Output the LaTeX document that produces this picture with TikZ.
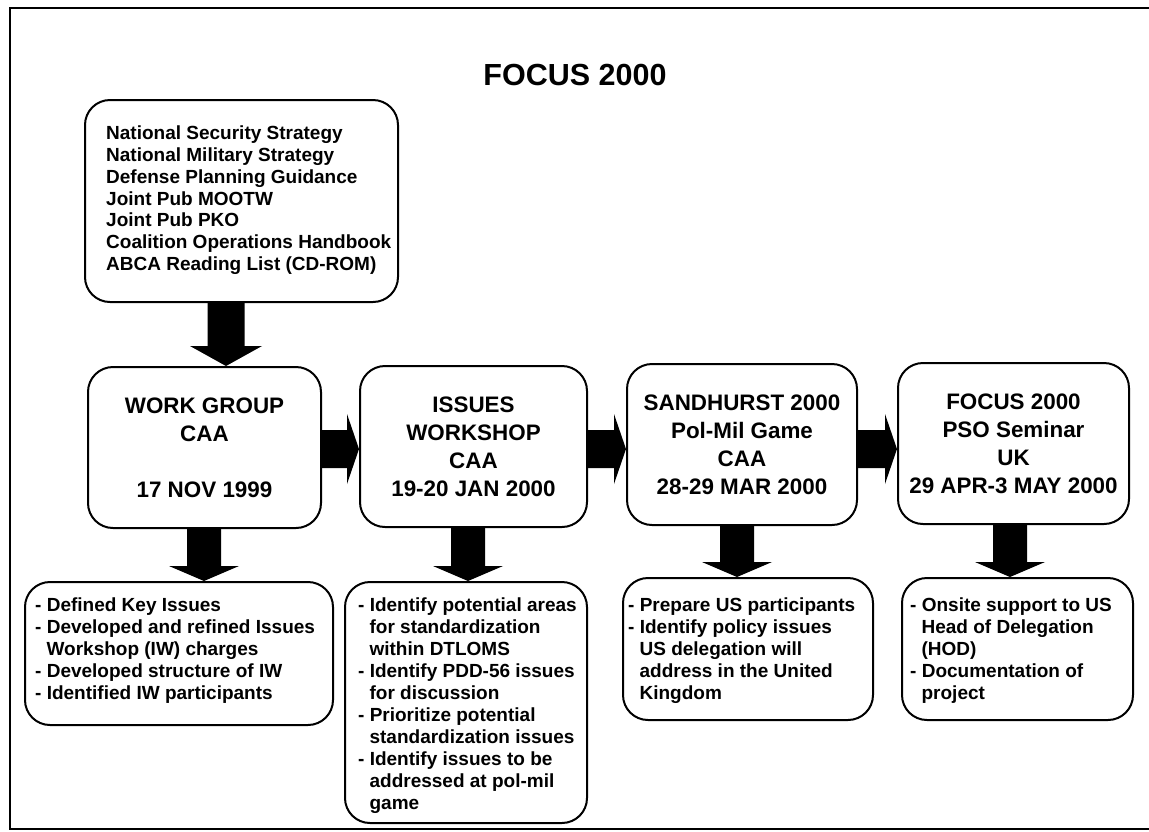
\documentclass[tikz,border=0pt]{standalone}
\usepackage{fontspec}
\setmainfont{Liberation Sans}
\usetikzlibrary{calc}
\newcommand\contind{\hspace*{0.6em}}
% vertical fat arrow: from, to, x, shaft half width, head half width, head length
\newcommand\vfat[6]{%
  \fill let \p1=(#1.south), \p2=(#2.north) in
    (#3pt-#4pt,\y1) -- (#3pt+#4pt,\y1) -- (#3pt+#4pt,\y2+#6pt) -- (#3pt+#5pt,\y2+#6pt)
    -- (#3pt,\y2) -- (#3pt-#5pt,\y2+#6pt) -- (#3pt-#4pt,\y2+#6pt) -- cycle;}
% horizontal fat arrow: from, to, y centre (downwards)
\newcommand\hfat[3]{%
  \fill let \p1=(#1.east), \p2=(#2.west) in
    (\x1,-#3pt+19pt) -- (\x2-12pt,-#3pt+19pt) -- (\x2-12pt,-#3pt+35pt) -- (\x2,-#3pt)
    -- (\x2-12pt,-#3pt-35pt) -- (\x2-12pt,-#3pt-19pt) -- (\x1,-#3pt-19pt) -- cycle;}
\begin{document}
\begin{tikzpicture}[x=1pt,y=-1pt,
  box/.style={draw=black, line width=2pt, rounded corners=25pt, inner sep=0pt},
  rowtxt/.style={align=center, font=\bfseries\fontsize{22.4}{28}\selectfont},
  listtxt/.style={align=left, anchor=north west, inner sep=0pt, font=\bfseries\fontsize{19}{22}\selectfont},
  toptxt/.style={align=left, anchor=north west, inner sep=0pt, font=\bfseries\fontsize{19}{21.7}\selectfont},
  frameline/.style={line width=1.8pt}
]
\useasboundingbox (0,0) rectangle (1149,831);
\fill[white] (0,0) rectangle (1149,831);

% frame
\coordinate (fTL) at (10,8);
\coordinate (fTR) at (1149,8);
\coordinate (fBL) at (10,829);
\coordinate (fBR) at (1149,829);
\draw[frameline] (fTR) -- (fTL) -- (fBL) -- (fBR);

% title
\node[font=\bfseries\fontsize{30.5}{36}\selectfont] (title) at (575,75) {FOCUS 2000};

% top box
\node[box, minimum width=313pt, minimum height=202pt] (top) at (241.5,201) {};
\node[toptxt] (toptext) at (106,126) {National Security Strategy\\National Military Strategy\\Defense Planning Guidance\\Joint Pub MOOTW\\Joint Pub PKO\\Coalition Operations Handbook\\ABCA Reading List (CD-ROM)};

% row boxes
\node[box, rowtxt, minimum width=233pt, minimum height=161pt] (wg) at (204.5,447.5) {WORK GROUP\\CAA\\[28pt]17 NOV 1999};
\node[box, rowtxt, minimum width=227pt, minimum height=161pt] (is) at (473.5,446.5) {ISSUES\\WORKSHOP\\CAA\\19-20 JAN 2000};
\node[box, rowtxt, minimum width=230pt, minimum height=161pt] (sa) at (742,444.5) {SANDHURST 2000\\Pol-Mil Game\\CAA\\28-29 MAR 2000};
\node[box, rowtxt, minimum width=231pt, minimum height=161pt] (fo) at (1013.5,443.5) {FOCUS 2000\\PSO Seminar\\UK\\29 APR-3 MAY 2000};

% bottom boxes
\node[box, minimum width=308pt, minimum height=143pt] (wgb) at (179,653.5) {};
\node[listtxt] (wgbt) at (35,598) {- Defined Key Issues\\- Developed and refined Issues\\\contind Workshop (IW) charges\\- Developed structure of IW\\- Identified IW participants};

\node[box, minimum width=242pt, minimum height=241pt] (isb) at (466,702.5) {};
\node[listtxt] (isbt) at (358,598) {- Identify potential areas\\\contind for standardization\\\contind within DTLOMS\\- Identify PDD-56 issues\\\contind for discussion\\- Prioritize potential\\\contind standardization issues\\- Identify issues to be\\\contind addressed at pol-mil\\\contind game};

\node[box, minimum width=250pt, minimum height=142pt] (sab) at (748,649) {};
\node[listtxt] (sabt) at (628,598) {- Prepare US participants\\- Identify policy issues\\\contind US delegation will\\\contind address in the United\\\contind Kingdom};

\node[box, minimum width=231pt, minimum height=142pt] (fob) at (1017.5,649) {};
\node[listtxt] (fobt) at (910,598) {- Onsite support to US\\\contind Head of Delegation\\\contind (HOD)\\- Documentation of\\\contind project};

% arrows
\vfat{top}{wg}{226}{18.5}{36}{20}
\hfat{wg}{is}{449}
\hfat{is}{sa}{449}
\hfat{sa}{fo}{449}
\vfat{wg}{wgb}{204}{17}{35}{15}
\vfat{is}{isb}{468}{17}{35}{15}
\vfat{sa}{sab}{737}{17}{35}{15}
\vfat{fo}{fob}{1010}{17}{35}{15}
\end{tikzpicture}
\end{document}
